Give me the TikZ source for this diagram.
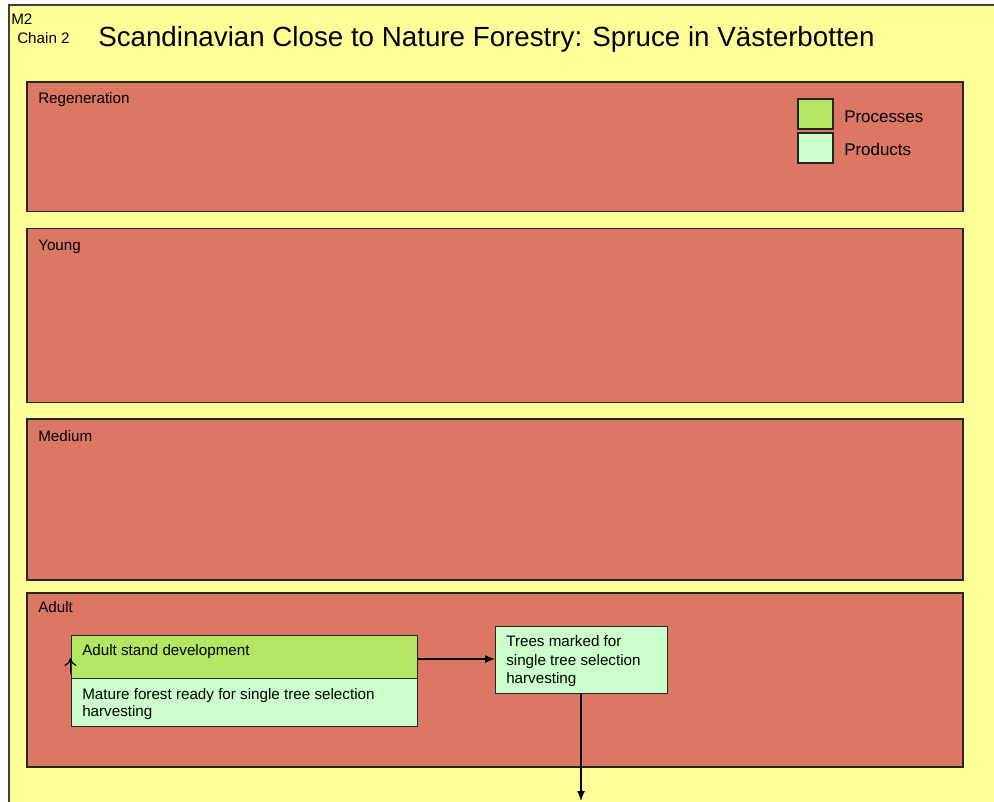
\documentclass[tikz,border=0pt]{standalone}
\usepackage{fontspec}
\setmainfont{Liberation Sans}
\usetikzlibrary{arrows.meta}
\definecolor{sheet}{HTML}{FFFF99}
\definecolor{stage}{HTML}{DB7763}
\definecolor{procfill}{HTML}{B3E663}
\definecolor{prodfill}{HTML}{CCFFCC}
\tikzset{
  stagebox/.style={draw=black!85, line width=1.3pt, fill=stage},
  procbox/.style={draw=black!85, line width=1pt, fill=procfill},
  prodbox/.style={draw=black!85, line width=1pt, fill=prodfill},
  lbl/.style={anchor=base west, inner sep=0pt, font=\fontsize{11.4pt}{13pt}\selectfont},
  leglbl/.style={anchor=base west, inner sep=0pt, font=\fontsize{12.7pt}{14pt}\selectfont},
  flow/.style={line width=0.9pt, -{Latex[length=7.5pt,width=6pt]}},
}
\begin{document}
\begin{tikzpicture}[x=0.75pt,y=-0.75pt]
\useasboundingbox (0,0) rectangle (994,801);
% sheet
\fill[white] (0,0) rectangle (994,801);
\fill[sheet] (9,5) rectangle (1000,810);
\draw[black!75, line width=1pt] (9,810) -- (9,5) -- (1000,5);
% header
\node[lbl] (m2) at (11,24.5) {M2};
\node[lbl] (chain) at (17,43) {Chain 2};
\node[anchor=base west, inner sep=0pt, font=\fontsize{20.8pt}{24pt}\selectfont] (title) at (98,46) {Scandinavian Close to Nature Forestry: Spruce in Västerbotten};
% stages
\draw[stagebox] (27,82) rectangle (963,211.5);
\node[lbl] (regen) at (38,103) {Regeneration};
\draw[stagebox] (27,228.5) rectangle (963,402.5);
\node[lbl] (young) at (38,250) {Young};
\draw[stagebox] (27,419) rectangle (963,580);
\node[lbl] (medium) at (38,441) {Medium};
\draw[stagebox] (27,593) rectangle (963,767);
\node[lbl] (adult) at (38,612) {Adult};
% legend
\draw[procbox] (798,99) rectangle (833,129);
\node[leglbl] (legproc) at (844,122) {Processes};
\draw[prodbox] (798,133) rectangle (833,163);
\node[leglbl] (legprod) at (844,155.5) {Products};
% adult stand development block
\node[procbox, minimum width=346*0.75pt, minimum height=43*0.75pt, anchor=north west, inner sep=0pt] (proc) at (70.5,635) {};
\node[prodbox, minimum width=346*0.75pt, minimum height=48*0.75pt, anchor=north west, inner sep=0pt] (prod) at (70.5,678) {};
\node[lbl] (proct) at (82,655) {Adult stand development};
\node[lbl] (prodt1) at (82,699) {Mature forest ready for single tree selection};
\node[lbl] (prodt2) at (82,716.5) {harvesting};
% marked trees
\node[prodbox, minimum width=172*0.75pt, minimum height=67*0.75pt, anchor=north west, inner sep=0pt] (marked) at (495,626) {};
\node[lbl] (mk1) at (506,646.5) {Trees marked for};
\node[lbl] (mk2) at (506,665) {single tree selection};
\node[lbl] (mk3) at (506,683.5) {harvesting};
% connectors
\coordinate (out) at (581,801);
\draw[flow] (proc.east |- 0,659) -- (marked.west |- 0,659);
\draw[flow] (marked.south -| 581,0) -- (out);
\coordinate (loopin) at (70.5,674);
\draw[line width=0.9pt, -{To[length=6pt,width=9pt]}] (loopin) -- (70.5,658);
\end{tikzpicture}
\end{document}
